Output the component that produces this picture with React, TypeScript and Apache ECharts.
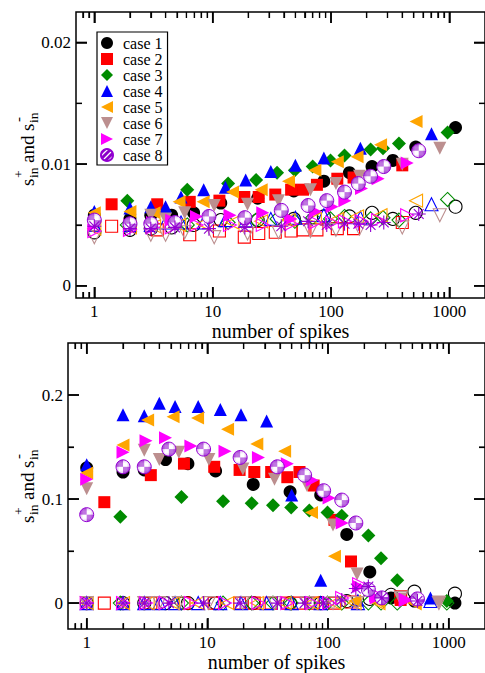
import React, { useEffect, useRef } from "react";
import * as echarts from "echarts";

const caseNames = ["case 1", "case 2", "case 3", "case 4", "case 5", "case 6", "case 7", "case 8"];
const caseColors = ["#000000", "#ff0000", "#008b00", "#0000ff", "#ffa500", "#bc8f8f", "#ff00ff", "#9400d3"];

// case 1
const x1 = [1, 2, 3, 4.5, 6.9, 11.7, 24, 48.5, 87, 143, 222, 333, 520, 1127];
const top1P = [0.0058, 0.0055, 0.0058, 0.0058, 0.006, 0.0068, 0.0072, 0.0078, 0.0086, 0.0093, 0.0098, 0.0103, 0.0114, 0.013];
const top1M = [0.0044, 0.0046, 0.0047, 0.0048, 0.005, 0.0054, 0.0054, 0.0055, 0.0057, 0.0057, 0.006, 0.0055, 0.006, 0.0065];
const bot1P = [0.13, 0.126, 0.128, 0.138, 0.134, 0.127, 0.114, 0.107, 0.104, 0.066, 0.03, 0.005, 0.002, 0.0];
const bot1M = [0, 0, 0, 0, 0, 0, 0, 0, 0, 0.002, 0.004, 0.008, 0.011, 0.009];
// case 2
const x2 = [1.4, 3.4, 6.4, 11.4, 18.5, 24.5, 33.8, 46, 58, 76, 113, 155, 400];
const top2P = [0.0067, 0.0067, 0.0069, 0.007, 0.0073, 0.0073, 0.0075, 0.0079, 0.0079, 0.0083, 0.0088, 0.0089, 0.0099];
const top2M = [0.0049, 0.0046, 0.0042, 0.0045, 0.004, 0.0043, 0.0044, 0.0045, 0.0046, 0.0046, 0.0047, 0.0047, 0.0052];
const bot2P = [0.097, 0.123, 0.134, 0.131, 0.128, 0.126, 0.126, 0.121, 0.126, 0.113, 0.08, 0.04, 0.003];
const bot2M = [0, 0, 0, 0, 0, 0, 0, 0, 0, 0, 0, 0.001, 0.006];
// case 3
const x3 = [1.9, 6.1, 13.5, 23.3, 35, 49.5, 70, 99, 130, 216, 275, 375, 965];
const top3P = [0.007, 0.0079, 0.0084, 0.0087, 0.0093, 0.0095, 0.0098, 0.0103, 0.0107, 0.0112, 0.0113, 0.0117, 0.0126];
const top3M = [0.005, 0.005, 0.0052, 0.0054, 0.0055, 0.0053, 0.0056, 0.0055, 0.0057, 0.0055, 0.0056, 0.0054, 0.0071];
const bot3P = [0.083, 0.102, 0.098, 0.096, 0.094, 0.092, 0.089, 0.087, 0.084, 0.065, 0.043, 0.022, 0.002];
const bot3M = [0, 0, 0, 0, 0, 0, 0, 0, 0, 0, 0, 0, 0];
// case 4
const x4 = [1, 2, 3, 4, 5.4, 8.4, 12.8, 19, 31, 50, 87, 177, 706];
const top4P = [0.0061, 0.0064, 0.0065, 0.0065, 0.0073, 0.0079, 0.0081, 0.0087, 0.0094, 0.0099, 0.0105, 0.0113, 0.0125];
const top4M = [0.005, 0.005, 0.005, 0.0052, 0.0052, 0.0052, 0.0054, 0.0054, 0.0055, 0.0056, 0.0058, 0.0056, 0.0067];
const bot4P = [0.133, 0.181, 0.18, 0.192, 0.189, 0.189, 0.186, 0.181, 0.175, 0.104, 0.022, 0.003, 0.005];
const bot4M = [0, 0, 0, 0, 0, 0, 0, 0, 0, 0, 0, 0, 0.002];
// case 5
const x5 = [1, 2, 3.2, 5.2, 8.3, 14.7, 25.7, 43.7, 73, 113, 166, 262, 523];
const top5P = [0.006, 0.0061, 0.006, 0.0069, 0.0069, 0.0077, 0.0079, 0.0086, 0.0095, 0.0102, 0.0106, 0.0116, 0.0135];
const top5M = [0.0047, 0.0048, 0.0049, 0.005, 0.0051, 0.0052, 0.0053, 0.0054, 0.0055, 0.0055, 0.0057, 0.0058, 0.007];
const bot5P = [0.125, 0.152, 0.176, 0.179, 0.178, 0.167, 0.153, 0.146, 0.087, 0.045, 0.002, 0.001, 0.0];
const bot5M = [0, 0, 0, 0, 0, 0, 0, 0, 0, 0, 0, 0, 0];
// case 6
const x6 = [1, 3, 4, 5.8, 10.3, 19.7, 36, 67, 110, 174, 400, 830];
const top6P = [0.0052, 0.0058, 0.0055, 0.006, 0.0066, 0.0067, 0.007, 0.0079, 0.0084, 0.009, 0.01, 0.0113];
const top6M = [0.004, 0.0042, 0.0042, 0.0044, 0.004, 0.0043, 0.0044, 0.0045, 0.0046, 0.0047, 0.0048, 0.0058];
const bot6P = [0.11, 0.147, 0.138, 0.145, 0.138, 0.129, 0.119, 0.113, 0.075, 0.028, 0.004, 0.001];
const bot6M = [0, 0, 0, 0, 0, 0, 0, 0, 0, 0, 0.005, 0];
// case 7
const x7 = [1, 2, 3.1, 4.5, 7.3, 14, 26.5, 46, 74, 102, 131, 181, 250, 440];
const top7P = [0.005, 0.005, 0.0052, 0.0054, 0.0057, 0.0058, 0.006, 0.0055, 0.0061, 0.0065, 0.007, 0.008, 0.0088, 0.0101];
const top7M = [0.0045, 0.0046, 0.0048, 0.0048, 0.005, 0.005, 0.005, 0.0051, 0.0052, 0.0052, 0.0053, 0.0053, 0.0054, 0.0058];
const bot7P = [0.119, 0.145, 0.156, 0.159, 0.151, 0.146, 0.14, 0.134, 0.118, 0.101, 0.077, 0.016, 0.005, 0.003];
const bot7M = [0, 0, 0, 0, 0, 0, 0, 0, 0, 0, 0.005, 0.018, 0.008, 0.003];
// case 8
const x8 = [1, 2, 3, 4.8, 9.3, 18.7, 38, 64, 92, 130, 170, 216, 279, 551];
const top8P = [0.0054, 0.0051, 0.0051, 0.0052, 0.0057, 0.0056, 0.0062, 0.0066, 0.007, 0.0077, 0.0084, 0.009, 0.0098, 0.0111];
const top8M = [0.0049, 0.0047, 0.0047, 0.0048, 0.0047, 0.0048, 0.0049, 0.0053, 0.005, 0.0051, 0.0051, 0.005, 0.0052, 0.0059];
const bot8P = [0.085, 0.131, 0.131, 0.148, 0.148, 0.14, 0.131, 0.123, 0.108, 0.099, 0.077, 0.013, 0.005, 0.004];
const bot8M = [0, 0, 0, 0, 0, 0, 0, 0, 0, 0.003, 0.014, 0.016, 0.005, 0.002];

const xTicks = [1, 10, 100, 1000];
const xMinorTicks = [0.8, 0.9, 2, 3, 4, 5, 6, 7, 8, 9, 20, 30, 40, 50, 60, 70, 80, 90, 200, 300, 400, 500, 600, 700, 800, 900];
const topYTicks = [0, 0.01, 0.02];
const topYMinor = [0.005, 0.015];
const botYTicks = [0, 0.1, 0.2];
const botYMinor = [0.05, 0.15];

const caseX = [x1, x2, x3, x4, x5, x6, x7, x8];
const topPlus = [top1P, top2P, top3P, top4P, top5P, top6P, top7P, top8P];
const topMinus = [top1M, top2M, top3M, top4M, top5M, top6M, top7M, top8M];
const botPlus = [bot1P, bot2P, bot3P, bot4P, bot5P, bot6P, bot7P, bot8P];
const botMinus = [bot1M, bot2M, bot3M, bot4M, bot5M, bot6M, bot7M, bot8M];

const FONT = "Liberation Serif";
const X_MIN = 0.7;
const X_MAX = 2000;

const SYM_RECT = "path://M0,0L10,0L10,10L0,10Z";
const SYM_DIAMOND = "path://M5,0L10,5L5,10L0,5Z";
const SYM_LEFT = "path://M0,5L10,0L10,10Z";
const SYM_DOWN = "path://M0,0L10,0L5,10Z";
const SYM_RIGHT = "path://M0,0L10,5L0,10Z";
const SYM_UP = "path://M5,0L10,10L0,10Z";
const SYM_STAR = "path://M5,0L5,10M0,5L10,5M1.5,1.5L8.5,8.5M1.5,8.5L8.5,1.5";
const caseSymbols = ["circle", SYM_RECT, SYM_DIAMOND, SYM_UP, SYM_LEFT, SYM_DOWN, SYM_RIGHT, "circle"];
const caseSizes = [13, 12, 14, 13, 13, 13, 13, 14];

function hatchCanvas(): HTMLCanvasElement {
  const c = document.createElement("canvas");
  c.width = 6;
  c.height = 6;
  const g = c.getContext("2d")!;
  g.fillStyle = "#8a00c8";
  g.fillRect(0, 0, 6, 6);
  g.strokeStyle = "#ffffff";
  g.lineWidth = 1.3;
  g.beginPath();
  g.moveTo(-1, 7); g.lineTo(7, -1);
  g.moveTo(-1, 1); g.lineTo(1, -1);
  g.moveTo(5, 7); g.lineTo(7, 5);
  g.stroke();
  return c;
}

function yTitle(x: number, y: number) {
  const t = (text: string, lx: number, ly: number, size: number) => ({
    type: "text",
    x: lx,
    y: ly,
    style: { text, fontSize: size, fontFamily: FONT, fill: "#000", align: "left", verticalAlign: "middle" },
  });
  return {
    type: "group",
    x,
    y,
    rotation: Math.PI / 2,
    children: [
      t("s", 0, 0, 19),
      t("+", 8, -8.5, 13.5),
      t("in", 8, 6.5, 13.5),
      t("and", 23, 0, 19),
      t("s", 55, 0, 19),
      t("-", 64, -9.5, 15),
      t("in", 63, 6.5, 13.5),
    ],
  };
}

const MAJOR_LEN = 11;
const MINOR_LEN = 6;

function tickAxis(extra: any, values: number[], major: boolean) {
  return {
    ...extra,
    splitLine: { show: false },
    axisLine: { show: false, onZero: false },
    axisTick: {
      show: true,
      inside: true,
      length: major ? MAJOR_LEN : MINOR_LEN,
      customValues: values,
      lineStyle: { color: "#000", width: major ? 1.5 : 1.2 },
    },
    axisLabel: { show: false },
  };
}

// short line series along the frame, as a second way of drawing the tick marks
function tickLine(axisIdx: number, a: number[], b: number[], w: number) {
  return {
    type: "line",
    name: "tick",
    xAxisIndex: axisIdx,
    yAxisIndex: axisIdx,
    silent: true,
    clip: false,
    showSymbol: false,
    symbol: "none",
    z: 20,
    lineStyle: { color: "#000", width: w, type: "solid" },
    data: [a, b],
  };
}

export default function App() {
  const ref = useRef<HTMLDivElement>(null);
  useEffect(() => {
    if (!ref.current) return;
    const chart = echarts.init(ref.current, undefined, { renderer: "svg" });
    const hatch = hatchCanvas();

    const grids = [
      { left: 76, top: 12, width: 410, height: 286 },
      { left: 68, top: 343, width: 418, height: 292 },
    ];
    const yRanges = [
      { min: -0.001, max: 0.0225, ticks: topYTicks, minor: topYMinor },
      { min: -0.025, max: 0.25, ticks: botYTicks, minor: botYMinor },
    ];

    const xAxes: any[] = [];
    const yAxes: any[] = [];
    const series: any[] = [];
    grids.forEach((gd, g) => {
      const xb = { gridIndex: g, type: "log", logBase: 10, min: X_MIN, max: X_MAX };
      const main = tickAxis({ ...xb, position: "bottom" }, xTicks, true);
      main.axisLabel = { show: true, customValues: xTicks, formatter: (v: number) => String(Math.round(v)), fontSize: 17, fontFamily: FONT, color: "#000", margin: 5 };
      main.name = "number of spikes";
      main.nameLocation = "middle";
      main.nameGap = 17;
      main.nameTextStyle = { fontSize: 20, fontFamily: FONT, color: "#000", verticalAlign: "top" };
      xAxes.push(main);
      xAxes.push(tickAxis({ ...xb, position: "bottom" }, xMinorTicks, false));
      xAxes.push(tickAxis({ ...xb, position: "top" }, xTicks, true));
      xAxes.push(tickAxis({ ...xb, position: "top" }, xMinorTicks, false));

      const yr = yRanges[g];
      const yb = { gridIndex: g, type: "value", min: yr.min, max: yr.max };
      const ymain = tickAxis({ ...yb, position: "left" }, yr.ticks, true);
      ymain.axisLabel = { show: true, customValues: yr.ticks, formatter: (v: number) => String(Math.round(v * 1000) / 1000), fontSize: 17, fontFamily: FONT, color: "#000", margin: 5 };
      yAxes.push(ymain);
      yAxes.push(tickAxis({ ...yb, position: "left" }, yr.minor, false));
      yAxes.push(tickAxis({ ...yb, position: "right" }, yr.ticks, true));
      yAxes.push(tickAxis({ ...yb, position: "right" }, yr.minor, false));

      const ai = g * 4;
      const yPerPx = (yr.max - yr.min) / gd.height;
      const xFactorPerPx = Math.pow(X_MAX / X_MIN, 1 / gd.width);
      const xTick = (v: number, len: number, w: number) => {
        series.push(tickLine(ai, [v, yr.min], [v, yr.min + len * yPerPx], w));
        series.push(tickLine(ai, [v, yr.max], [v, yr.max - len * yPerPx], w));
      };
      const yTick = (v: number, len: number, w: number) => {
        series.push(tickLine(ai, [X_MIN, v], [X_MIN * Math.pow(xFactorPerPx, len), v], w));
        series.push(tickLine(ai, [X_MAX, v], [X_MAX / Math.pow(xFactorPerPx, len), v], w));
      };
      xTicks.forEach((v) => xTick(v, MAJOR_LEN, 1.5));
      xMinorTicks.forEach((v) => xTick(v, MINOR_LEN, 1.2));
      yr.ticks.forEach((v) => yTick(v, MAJOR_LEN, 1.5));
      yr.minor.forEach((v) => yTick(v, MINOR_LEN, 1.2));
    });

    const panels = [
      { g: 0, plus: topPlus, minus: topMinus },
      { g: 1, plus: botPlus, minus: botMinus },
    ];
    panels.forEach((p) => {
      for (let i = 0; i < 8; i++) {
        const xs = caseX[i];
        const color = caseColors[i];
        const filledColor: any = i === 7 ? { image: hatch, repeat: "repeat" } : color;
        series.push({
          type: "scatter",
          name: caseNames[i],
          xAxisIndex: p.g * 4,
          yAxisIndex: p.g * 4,
          symbol: caseSymbols[i],
          symbolSize: caseSizes[i],
          itemStyle: { color: filledColor, borderColor: i === 7 ? color : undefined, borderWidth: i === 7 ? 1 : 0, opacity: 1 },
          data: xs.map((x, k) => [x, p.plus[i][k]]),
          z: 2 + i,
        });
        series.push({
          type: "scatter",
          name: caseNames[i] + " (-)",
          xAxisIndex: p.g * 4,
          yAxisIndex: p.g * 4,
          symbol: i === 7 ? SYM_STAR : caseSymbols[i],
          symbolSize: caseSizes[i],
          itemStyle: { color: "rgba(0,0,0,0)", borderColor: color, borderWidth: 1.1, opacity: 1 },
          data: xs.map((x, k) => [x, p.minus[i][k]]),
          z: 2 + i,
        });
      }
    });

    chart.setOption({
      animation: false,
      backgroundColor: "#ffffff",
      grid: grids.map((g) => ({ ...g, show: true, borderColor: "#000", borderWidth: 1.5, backgroundColor: "transparent", containLabel: false })),
      xAxis: xAxes,
      yAxis: yAxes,
      legend: {
        data: caseNames,
        orient: "vertical",
        left: 97,
        top: 32,
        itemWidth: 22,
        itemHeight: 12,
        itemGap: 0,
        padding: [3, 5, 2, 3],
        borderColor: "#000",
        borderWidth: 1.2,
        backgroundColor: "#fff",
        selectedMode: false,
        textStyle: { fontSize: 16, fontFamily: FONT, color: "#000", lineHeight: 16 },
      },
      graphic: [yTitle(27, 186), yTitle(27, 523)],
      series,
    });

    return () => chart.dispose();
  }, []);
  return <div ref={ref} style={{ position: "fixed", left: 0, top: 0, width: 485, height: 673, background: "#fff" }} />;
}
